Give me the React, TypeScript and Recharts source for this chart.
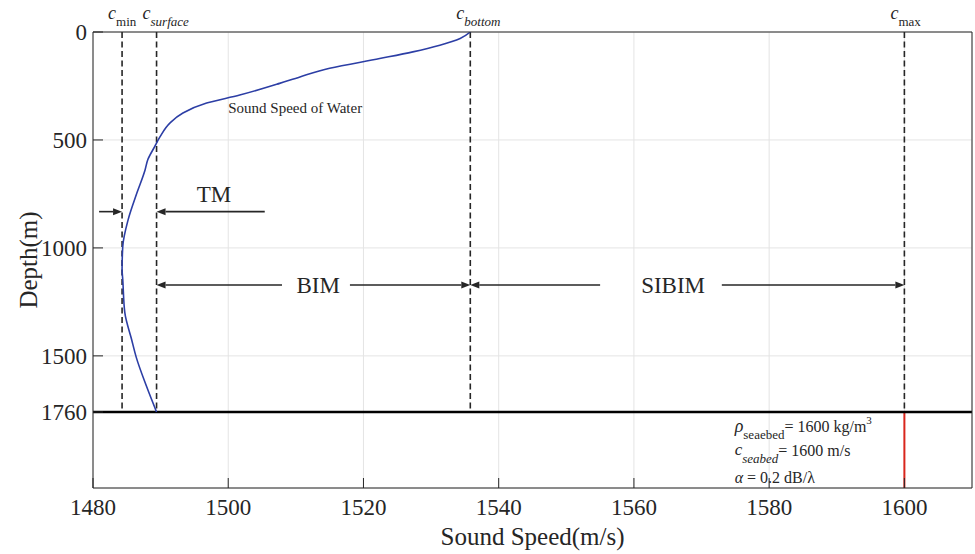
import React from 'react';
import {
  ComposedChart,
  Line,
  XAxis,
  YAxis,
  CartesianGrid,
  ReferenceLine,
  ReferenceDot,
} from 'recharts';

// axes
const speedTicks = [1480, 1500, 1520, 1540, 1560, 1580, 1600];
const depthTicks = [0, 500, 1000, 1500, 1760];
const speedDomain = [1480, 1610];
const depthDomain = [0, 2112];

// sound speed profile of the water column, surface to seabed
const profileDepth = [0, 30, 61, 92, 123, 168, 208, 238, 292, 329, 375, 421, 486, 532, 592, 639, 745, 869, 994, 1100, 1146, 1299, 1423, 1507, 1640, 1760];
const profileSpeed = [1535.8, 1534.3, 1531.3, 1527.3, 1522.4, 1515.0, 1510.6, 1507.6, 1501.7, 1496.8, 1493.3, 1491.4, 1489.9, 1489.1, 1488.1, 1487.7, 1486.5, 1485.2, 1484.4, 1484.3, 1484.4, 1484.7, 1485.7, 1486.4, 1487.9, 1489.4];

// characteristic speeds shown as dashed markers
const markerNames = ['min', 'surface', 'bottom', 'max'];
const markerSpeeds = [1484.3, 1489.4, 1535.8, 1600];
const markerItalic = [false, true, true, false];

const seabedDepth = 1760;
const seabedSpeed = 1600;

const INK = '#262626';
const FONT = 'Liberation Serif';

const data = profileDepth.map((depth, i) => ({ depth, speed: profileSpeed[i] }));

const [cMin, cSurface, cBottom, cMax] = markerSpeeds;

// mode ranges: [tail, tip] pairs in m/s, drawn at a given depth
const tmDepth = 832;
const bimDepth = 1172;
const arrows = [
  { from: 1480.9, to: cMin, depth: tmDepth },
  { from: 1505.4, to: cSurface, depth: tmDepth },
  { from: 1507.95, to: cSurface, depth: bimDepth },
  { from: 1518.0, to: cBottom, depth: bimDepth },
  { from: 1555.0, to: cBottom, depth: bimDepth },
  { from: 1573.0, to: cMax, depth: bimDepth },
];
const modeLabels = [
  { text: 'TM', speed: 1497.9, depth: 787 },
  { text: 'BIM', speed: 1513.3, depth: 1209 },
  { text: 'SIBIM', speed: 1565.8, depth: 1209 },
];

const Arrow = (props: any) => {
  const { x1, y1, x2, y2 } = props;
  const dx = x2 - x1;
  const dy = y2 - y1;
  const len = Math.hypot(dx, dy) || 1;
  const ux = dx / len;
  const uy = dy / len;
  const headLen = 9;
  const headHalf = 3.5;
  const bx = x2 - ux * headLen;
  const by = y2 - uy * headLen;
  return (
    <g>
      <line x1={x1} y1={y1} x2={bx} y2={by} stroke={INK} strokeWidth={1.6} />
      <polygon
        points={`${x2},${y2} ${bx - uy * headHalf},${by + ux * headHalf} ${bx + uy * headHalf},${by - ux * headHalf}`}
        fill={INK}
      />
    </g>
  );
};

const markerLabel = (name: string, italic: boolean) => (p: any) => (
  <text x={p.cx - 14} y={p.cy - 13} fill={INK} fontFamily={FONT}>
    <tspan fontStyle="italic" fontSize={18}>c</tspan>
    <tspan fontSize={13} dy={6.5} fontStyle={italic ? 'italic' : 'normal'}>{name}</tspan>
  </text>
);

const textAt = (text: string, size: number, anchor: 'start' | 'middle') => (p: any) => (
  <text x={p.cx} y={p.cy} fill={INK} fontFamily={FONT} fontSize={size} textAnchor={anchor}>
    {text}
  </text>
);

const SeabedNote = (p: any) => {
  const x = p.cx;
  const y = p.cy;
  return (
    <g fill={INK} fontFamily={FONT} fontSize={16}>
      <text x={x} y={y}>
        <tspan fontStyle="italic" fontSize={18}>ρ</tspan>
        <tspan fontSize={13} dy={7}>seaebed</tspan>
        <tspan dy={-7}>= 1600 kg/m</tspan>
        <tspan fontSize={11} dy={-8}>3</tspan>
      </text>
      <text x={x} y={y + 23}>
        <tspan fontStyle="italic" fontSize={17}>c</tspan>
        <tspan fontStyle="italic" fontSize={13} dy={8}>seabed</tspan>
        <tspan dy={-7}>= 1600 m/s</tspan>
      </text>
      <text x={x} y={y + 51}>
        <tspan fontStyle="italic">α</tspan>
        <tspan> = 0.2 dB/λ</tspan>
      </text>
    </g>
  );
};

const tickStyle = { fontSize: 23, fontFamily: FONT, fill: INK };

export default function App() {
  return (
    <div style={{ position: 'absolute', left: 0, top: 0, fontFamily: FONT }}>
      <ComposedChart width={975} height={554} data={data} margin={{ top: 0, right: 0, bottom: 0, left: 0 }}>
        <CartesianGrid stroke="#e4e4e4" strokeWidth={1} />
        <XAxis
          dataKey="speed"
          type="number"
          domain={speedDomain}
          ticks={speedTicks}
          allowDataOverflow
          height={66}
          tickSize={-10}
          tickMargin={21}
          stroke={INK}
          tick={tickStyle}
          label={{ value: 'Sound Speed(m/s)', position: 'insideBottom', offset: 9, fontSize: 25, fill: INK, fontFamily: FONT }}
        />
        <XAxis
          xAxisId="top"
          orientation="top"
          dataKey="speed"
          type="number"
          domain={speedDomain}
          ticks={speedTicks}
          allowDataOverflow
          height={32}
          tickSize={-10}
          tick={false}
          stroke={INK}
        />
        <YAxis
          dataKey="depth"
          type="number"
          reversed
          domain={depthDomain}
          ticks={depthTicks}
          allowDataOverflow
          width={93}
          tickSize={-10}
          tickMargin={16}
          stroke={INK}
          tick={tickStyle}
          label={{ value: 'Depth(m)', angle: -90, position: 'center', dx: -18, fontSize: 25, fill: INK, fontFamily: FONT }}
        />
        <YAxis
          yAxisId="right"
          orientation="right"
          type="number"
          reversed
          domain={depthDomain}
          ticks={depthTicks}
          allowDataOverflow
          width={3}
          tickSize={-10}
          tick={false}
          stroke={INK}
        />

        {markerSpeeds.map((c, i) => (
          <ReferenceLine
            key={`m-${i}`}
            segment={[{ x: c, y: 0 }, { x: c, y: seabedDepth }]}
            stroke={INK}
            strokeWidth={1.6}
            strokeDasharray="6 3.5"
          />
        ))}
        {markerSpeeds.map((c, i) => (
          <ReferenceDot key={`ml-${i}`} x={c} y={0} r={0} shape={markerLabel(markerNames[i], markerItalic[i])} />
        ))}

        <ReferenceLine
          segment={[{ x: seabedSpeed, y: seabedDepth }, { x: seabedSpeed, y: depthDomain[1] }]}
          stroke="#d9261c"
          strokeWidth={2}
        />
        <ReferenceLine y={seabedDepth} stroke="#000" strokeWidth={2.5} />

        {arrows.map((a, i) => (
          <ReferenceLine
            key={`a-${i}`}
            segment={[{ x: a.from, y: a.depth }, { x: a.to, y: a.depth }]}
            shape={Arrow}
          />
        ))}
        {modeLabels.map((m) => (
          <ReferenceDot key={m.text} x={m.speed} y={m.depth} r={0} shape={textAt(m.text, 23, 'middle')} />
        ))}

        <ReferenceDot x={1500.0} y={375} r={0} shape={textAt('Sound Speed of Water', 15, 'start')} />
        <ReferenceDot x={1574.9} y={1853} r={0} shape={SeabedNote} />

        <Line
          dataKey="depth"
          type="monotoneY"
          stroke="#2c3ea5"
          strokeWidth={1.6}
          dot={false}
          isAnimationActive={false}
        />
      </ComposedChart>
    </div>
  );
}
